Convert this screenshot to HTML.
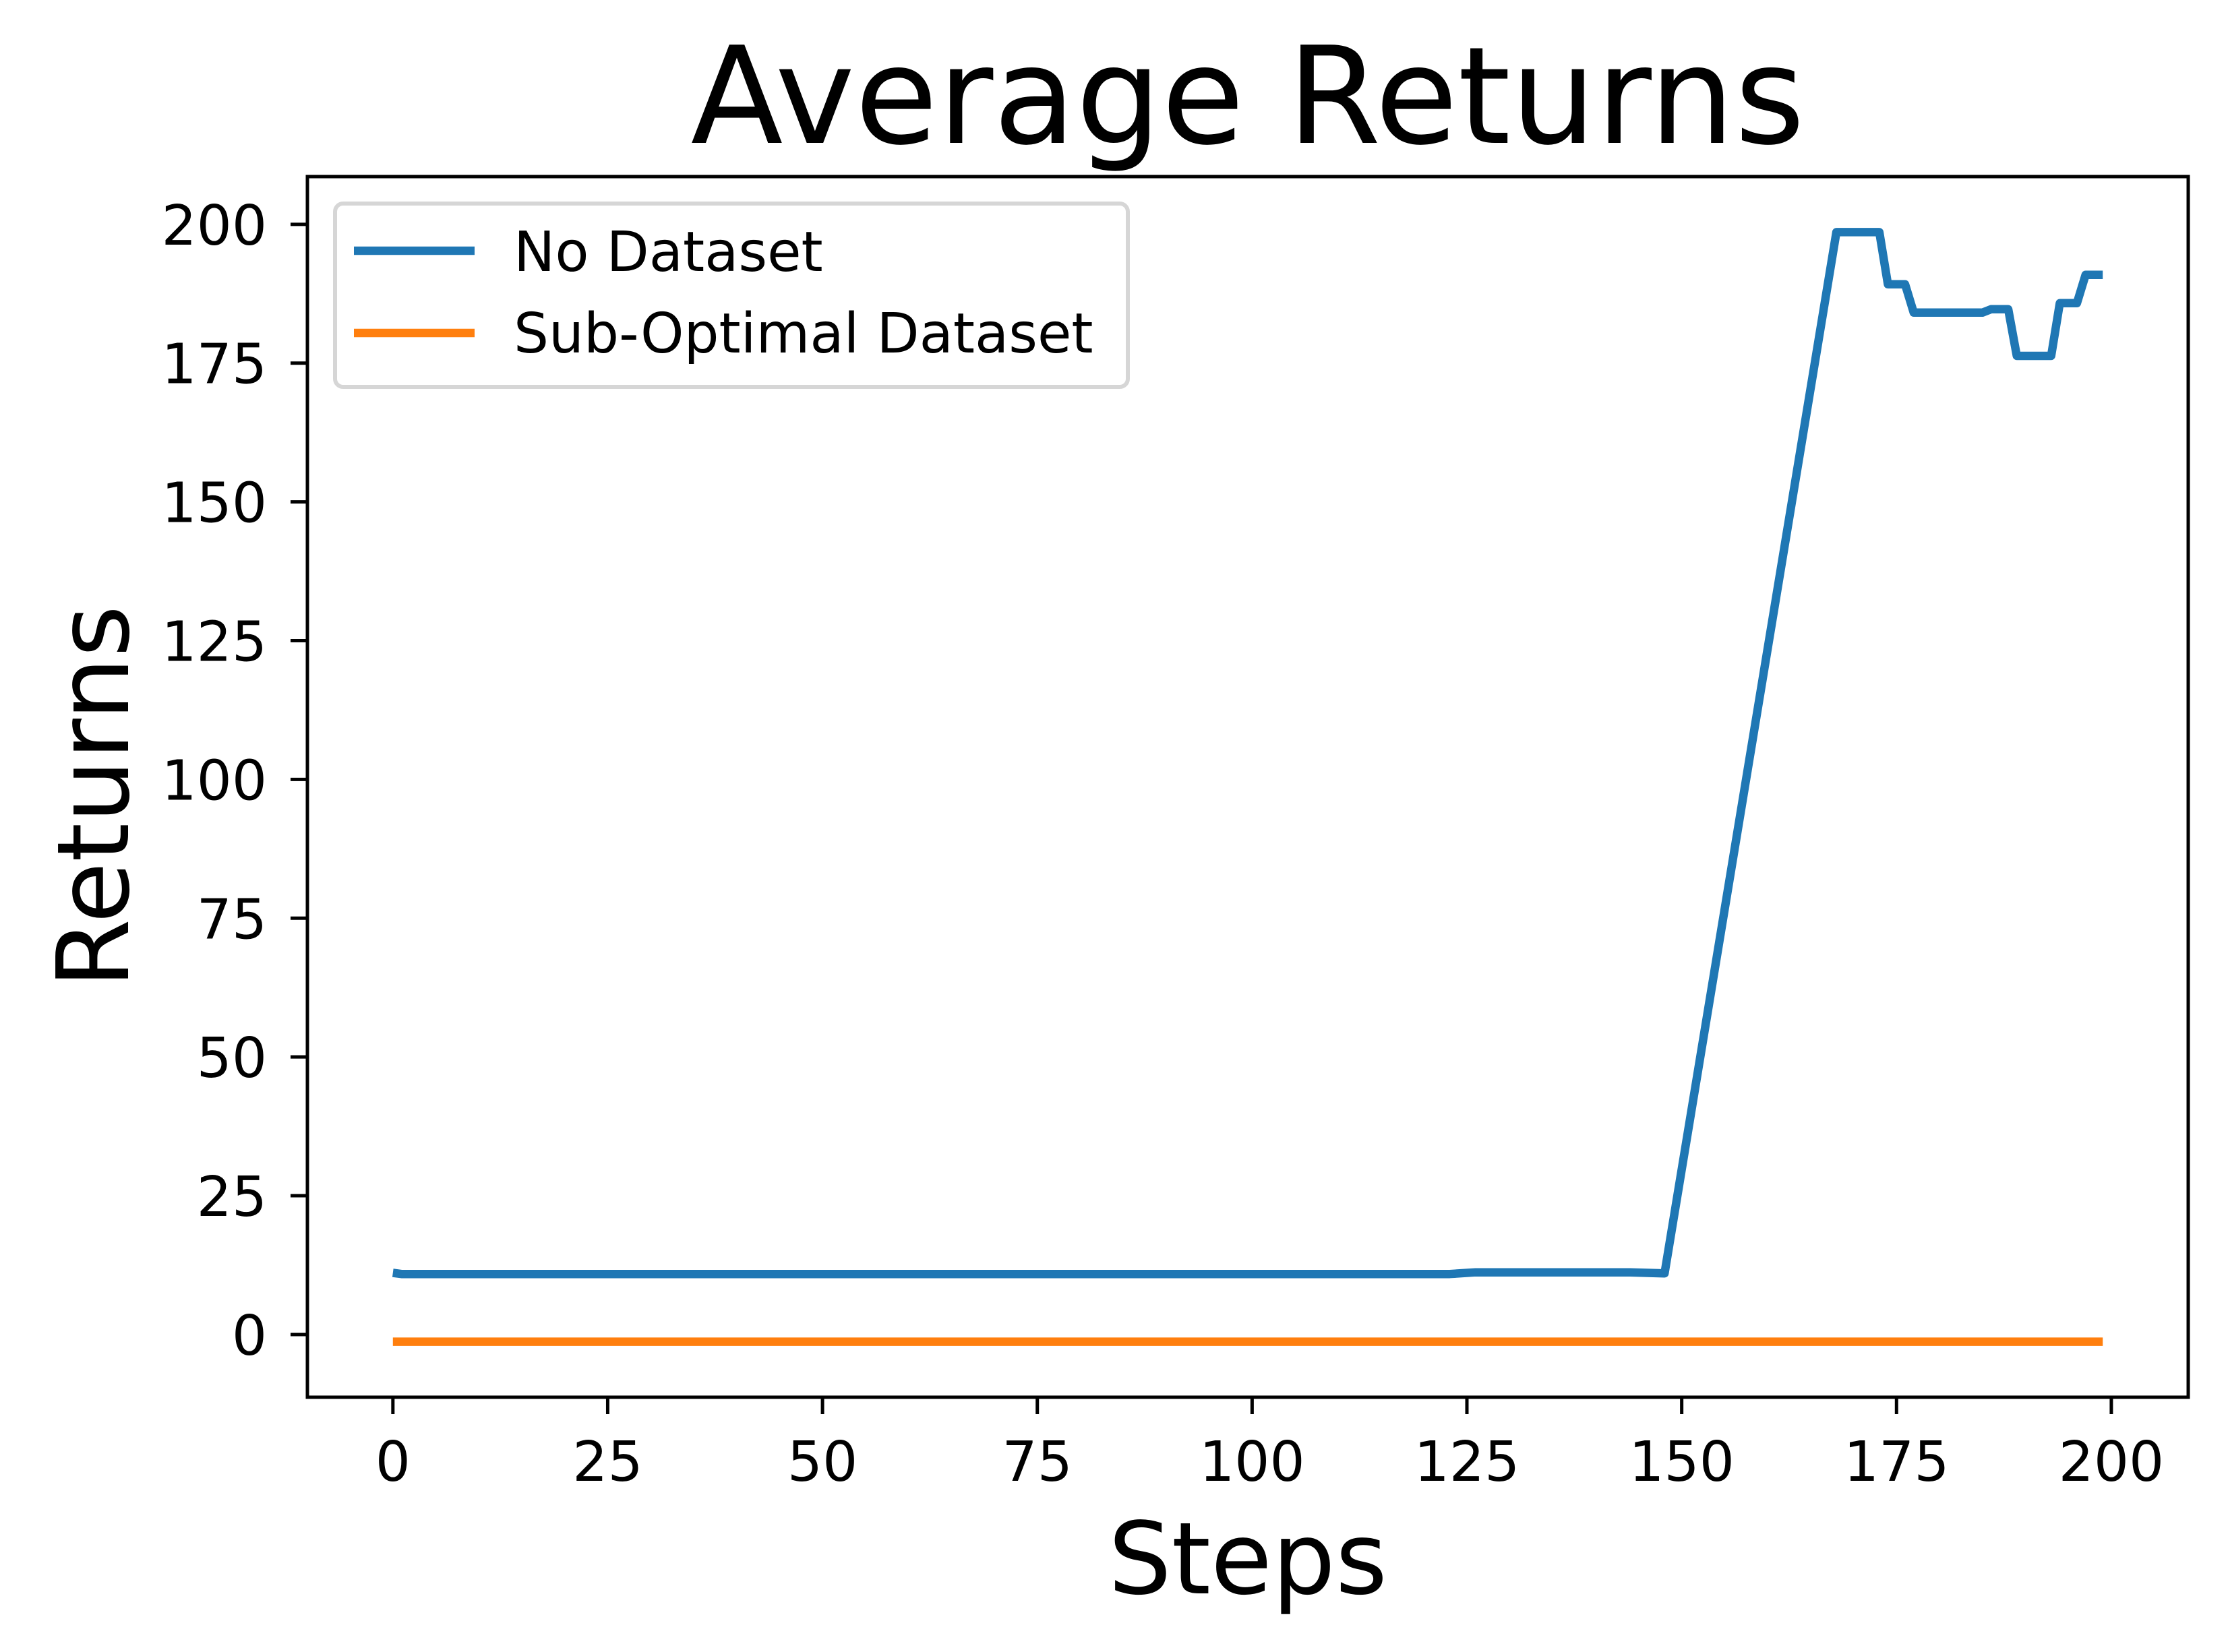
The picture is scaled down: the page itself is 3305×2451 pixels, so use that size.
<!DOCTYPE html>
<html><head><meta charset="utf-8"><style>
html,body{margin:0;padding:0;background:#fff}
svg{display:block}
text{font-family:"DejaVu Sans","Liberation Sans",sans-serif;fill:#000}
</style></head><body>
<svg id="chart" width="3305" height="2451" viewBox="0 0 3305 2451" xmlns="http://www.w3.org/2000/svg">
<rect width="3305" height="2451" fill="#fff"/>
<text x="1851" y="212" font-size="200" text-anchor="middle">Average Returns</text>
<g id="plot"></g>
<rect x="456" y="262" width="2790" height="1811" fill="none" stroke="#000" stroke-width="5"/>
<text x="1851" y="2364" font-size="148" text-anchor="middle">Steps</text>
<text x="0" y="0" font-size="148" text-anchor="middle" transform="translate(190,1182) rotate(-90)">Returns</text>
<g>
<rect x="497" y="302" width="1176" height="272" rx="12" fill="#fff" fill-opacity="0.8" stroke="#d6d6d6" stroke-width="6"/>
<line x1="525" y1="372" x2="704" y2="372" stroke="#1f77b4" stroke-width="12.5"/>
<text x="762" y="402" font-size="82">No Dataset</text>
<line x1="525" y1="494" x2="704" y2="494" stroke="#ff7f0e" stroke-width="12.5"/>
<text x="762" y="523" font-size="82">Sub-Optimal Dataset</text>
</g>
</svg>
<script>
const xTicks = [0, 25, 50, 75, 100, 125, 150, 175, 200];
const yTicks = [0, 25, 50, 75, 100, 125, 150, 175, 200];
const noDatasetSteps = [0, 1, 123, 126, 144, 148, 168, 173, 174, 176, 177, 185, 186, 188, 189, 193, 194, 196, 197, 199];
const noDatasetValues = [11.1, 10.9, 10.9, 11.2, 11.2, 11.0, 198.6, 198.6, 189.2, 189.2, 184.1, 184.1, 184.7, 184.7, 176.3, 176.3, 185.8, 185.8, 190.9, 190.9];
const subOptimalSteps = [0, 199];
const subOptimalValues = [-1.3, -1.3];

const L = 456, R = 3246, T = 262, B = 2073;
const xMin = -9.95, xMax = 208.95, yMin = -11.3, yMax = 208.6;
const sx = v => L + (v - xMin) / (xMax - xMin) * (R - L);
const sy = v => B - (v - yMin) / (yMax - yMin) * (B - T);
const NS = 'http://www.w3.org/2000/svg';
const g = document.getElementById('plot');
function mk(tag, attrs) { const e = document.createElementNS(NS, tag); for (const k in attrs) e.setAttribute(k, attrs[k]); g.appendChild(e); return e; }

xTicks.forEach(t => {
  const x = sx(t);
  const tk = mk('line', {x1: x, y1: B, x2: x, y2: B + 25, stroke: '#000', 'stroke-width': 5});
  
  
  const lb = mk('text', {x: x, y: 2197, 'font-size': 82, 'text-anchor': 'middle'});
  lb.textContent = t;
  
  
});
yTicks.forEach(t => {
  const y = sy(t);
  const tk = mk('line', {x1: L - 25, y1: y, x2: L, y2: y, stroke: '#000', 'stroke-width': 5});
  
  
  const lb = mk('text', {x: 396, y: y + 30, 'font-size': 82, 'text-anchor': 'end'});
  lb.textContent = t;
  
  
});
function series(xs, ys, color) {
  const d = xs.map((s, i) => (i ? 'L' : 'M') + sx(s).toFixed(1) + ' ' + sy(ys[i]).toFixed(1)).join(' ');
  return mk('path', {d: d, fill: 'none', stroke: color, 'stroke-width': 12.5, 'stroke-linejoin': 'round', 'stroke-linecap': 'butt'});
}
const p1 = series(noDatasetSteps, noDatasetValues, '#1f77b4');


const p2 = series(subOptimalSteps, subOptimalValues, '#ff7f0e');


</script>
</body></html>
